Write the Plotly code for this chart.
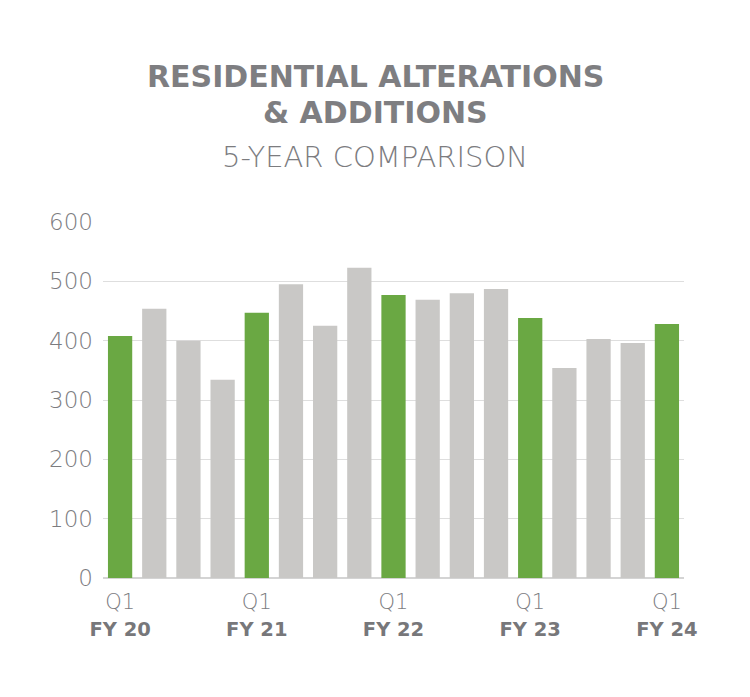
import plotly.graph_objects as go

quarters = ["Q1 FY20", "Q2 FY20", "Q3 FY20", "Q4 FY20",
            "Q1 FY21", "Q2 FY21", "Q3 FY21", "Q4 FY21",
            "Q1 FY22", "Q2 FY22", "Q3 FY22", "Q4 FY22",
            "Q1 FY23", "Q2 FY23", "Q3 FY23", "Q4 FY23",
            "Q1 FY24"]
values = [408, 454, 400, 334,
          447, 495, 425, 523,
          477, 469, 480, 487,
          438, 354, 403, 396,
          428]
tick_quarters = ["Q1 FY20", "Q1 FY21", "Q1 FY22", "Q1 FY23", "Q1 FY24"]
tick_labels = ["FY 20", "FY 21", "FY 22", "FY 23", "FY 24"]
y_ticks = [0, 100, 200, 300, 400, 500, 600]

GREEN = "#6aa843"
GRAY_BAR = "#c9c8c6"
TEXT = "#7c7c7f"
TITLE = "#7e7e81"

colors = [GREEN if q.startswith("Q1") else GRAY_BAR for q in quarters]

fig = go.Figure(go.Bar(x=quarters, y=values, marker_color=colors,
                       marker_line_width=0, hoverinfo="x+y"))

ticktext = [f"Q1<br><span style='color:#77777a;font-size:19.5px;font-weight:bold'>{t}</span>"
            for t in tick_labels]

# page offset (browser body margin) = 8 px
L, R, T, B = 95, 74, 214, 127

fig.update_layout(
    width=750, height=697,
    margin=dict(l=L, r=R, t=T, b=B),
    paper_bgcolor="white", plot_bgcolor="white",
    bargap=0.29,
    showlegend=False,
    font=dict(family="DejaVu Sans", color=TEXT),
    xaxis=dict(
        type="category",
        tickmode="array", tickvals=tick_quarters, ticktext=ticktext,
        tickfont=dict(size=21, color=TEXT, family="DejaVu Sans", weight=200),
        showgrid=False, showline=False, ticks="", zeroline=False,
        ticklabelstandoff=9,
    ),
    yaxis=dict(
        range=[0, 600], tickvals=y_ticks,
        tickfont=dict(size=23, color=TEXT, family="DejaVu Sans", weight=200),
        showgrid=True, gridcolor="#dedede", gridwidth=1,
        zeroline=True, zerolinecolor="#d4d4d4", zerolinewidth=1.5,
        showline=False, ticks="", ticklabelstandoff=9,
    ),
)

plot_h = 697 - T - B
plot_w = 750 - L - R
def py(page_y):
    return 1 + (T + 8 - page_y) / plot_h
cx = (375 - 8 - L) / plot_w

fig.add_annotation(text="<b>RESIDENTIAL ALTERATIONS</b>", x=cx, y=py(76),
                   xref="paper", yref="paper", showarrow=False,
                   xanchor="center", yanchor="middle",
                   font=dict(size=30, color=TITLE, family="DejaVu Sans"))
fig.add_annotation(text="<b>&amp; ADDITIONS</b>", x=cx, y=py(112),
                   xref="paper", yref="paper", showarrow=False,
                   xanchor="center", yanchor="middle",
                   font=dict(size=30, color=TITLE, family="DejaVu Sans"))
fig.add_annotation(text="5-YEAR COMPARISON", x=cx, y=py(157),
                   xref="paper", yref="paper", showarrow=False,
                   xanchor="center", yanchor="middle",
                   font=dict(size=29, color=TEXT, family="DejaVu Sans", weight=200))

fig.write_html("out.html")
